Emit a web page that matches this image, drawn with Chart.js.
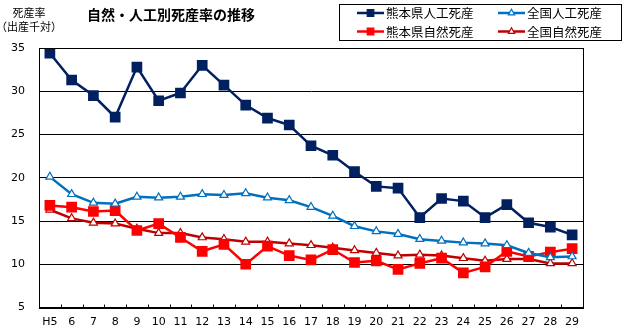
<!DOCTYPE html>
<html>
<head>
<meta charset="utf-8">
<script src="https://cdn.jsdelivr.net/npm/chart.js@4/dist/chart.umd.min.js"></script>
<style>
  html, body { margin: 0; padding: 0; background: #fff; }
  #wrap { width: 627px; height: 332px; position: relative; }
</style>
</head>
<body>
<div id="wrap"><canvas id="myChart"></canvas></div>
<script>
// 年次（平成）
var years = ['H5','6','7','8','9','10','11','12','13','14','15','16','17','18','19','20','21','22','23','24','25','26','27','28','29'];

// 死産率（出産千対）
var kumamotoJinko = [34.4,31.3,29.5,27.0,32.8,28.9,29.8,33.0,30.7,28.4,26.9,26.1,23.7,22.6,20.7,19.0,18.8,15.4,17.6,17.3,15.4,16.9,14.8,14.3,13.4];
var zenkokuJinko  = [20.1,18.1,17.1,17.0,17.8,17.7,17.8,18.1,18.0,18.2,17.7,17.4,16.6,15.6,14.4,13.8,13.5,12.9,12.7,12.5,12.4,12.2,11.3,10.8,10.9];
var kumamotoShizen = [16.8,16.6,16.1,16.2,13.9,14.7,13.1,11.5,12.3,10.0,12.1,11.0,10.5,11.7,10.2,10.4,9.4,10.1,10.7,9.0,9.7,11.5,10.9,11.4,11.8];
var zenkokuShizen  = [16.3,15.3,14.8,14.7,14.1,13.6,13.6,13.1,12.9,12.6,12.6,12.4,12.2,11.9,11.6,11.3,11.0,11.1,11.0,10.7,10.4,10.6,10.6,10.1,10.1];

var yTicks = [5,10,15,20,25,30,35];

var JP = '"Noto Sans CJK JP", "Noto Sans", sans-serif';

// frame, inner ticks, titles and the boxed legend
var decorPlugin = {
  id: 'decor',
  afterDraw: function (chart) {
    var ctx = chart.ctx;
    var a = chart.chartArea;
    var xs = chart.scales.x;
    ctx.save();
    ctx.strokeStyle = '#000';
    ctx.lineWidth = 1;
    ctx.strokeRect(Math.round(a.left) + 0.5, Math.round(a.top) + 0.5, Math.round(a.right - a.left), Math.round(a.bottom - a.top));
    var half = (xs.getPixelForValue(1) - xs.getPixelForValue(0)) / 2;
    for (var i = 1; i < years.length; i++) {
      var tx = Math.round(xs.getPixelForValue(i) - half) + 0.5;
      ctx.beginPath();
      ctx.moveTo(tx, a.bottom);
      ctx.lineTo(tx, a.bottom - 3);
      ctx.stroke();
    }

    ctx.fillStyle = '#000';
    ctx.textBaseline = 'middle';
    ctx.textAlign = 'left';
    ctx.font = 'bold 14px ' + JP;
    ctx.fillText('自然・人工別死産率の推移', 87, 15);
    ctx.textAlign = 'center';
    ctx.font = '11px ' + JP;
    ctx.fillText('死産率', 29, 13);
    ctx.fillText('（出産千対）', 29, 27);

    ctx.fillStyle = '#fff';
    ctx.fillRect(339, 4, 283, 37);
    ctx.strokeRect(339.5, 4.5, 282, 36);
    var pos = [[357, 13], [498, 13], [357, 31.5], [498, 31.5]];
    chart.data.datasets.forEach(function (ds, k) {
      var lx = pos[k][0], ly = pos[k][1];
      ctx.strokeStyle = ds.borderColor;
      ctx.lineWidth = ds.borderWidth;
      ctx.beginPath();
      ctx.moveTo(lx, ly);
      ctx.lineTo(lx + 27, ly);
      ctx.stroke();
      ctx.fillStyle = ds.pointBackgroundColor;
      ctx.strokeStyle = ds.pointBorderColor;
      ctx.lineWidth = 1.2;
      Chart.helpers.drawPoint(ctx, { pointStyle: ds.pointStyle, radius: ds.pointRadius * 0.8, borderWidth: 1.2 }, lx + 13.5, ly);
      ctx.fillStyle = '#000';
      ctx.textAlign = 'left';
      ctx.font = '12.5px ' + JP;
      ctx.fillText(ds.label, lx + 29, ly + 0.5);
    });
    ctx.restore();
  }
};

var data = {
  labels: years,
  datasets: [{
    label: '熊本県人工死産',
    data: kumamotoJinko,
    borderColor: '#002060',
    backgroundColor: '#002060',
    pointBackgroundColor: '#002060',
    pointBorderColor: '#002060',
    pointStyle: 'rect',
    pointRadius: 5.8,
    borderWidth: 2.5
  }, {
    label: '全国人工死産',
    data: zenkokuJinko,
    borderColor: '#0070C0',
    backgroundColor: '#ffffff',
    pointBackgroundColor: '#ffffff',
    pointBorderColor: '#0070C0',
    pointStyle: 'triangle',
    pointRadius: 4.6,
    pointBorderWidth: 1.2,
    borderWidth: 2.5
  }, {
    label: '熊本県自然死産',
    data: kumamotoShizen,
    borderColor: '#FF0000',
    backgroundColor: '#FF0000',
    pointBackgroundColor: '#FF0000',
    pointBorderColor: '#FF0000',
    pointStyle: 'rect',
    pointRadius: 5.8,
    borderWidth: 2.5
  }, {
    label: '全国自然死産',
    data: zenkokuShizen,
    borderColor: '#C00000',
    backgroundColor: '#ffffff',
    pointBackgroundColor: '#ffffff',
    pointBorderColor: '#C00000',
    pointStyle: 'triangle',
    pointRadius: 4.6,
    pointBorderWidth: 1.2,
    borderWidth: 2.5
  }]
};

var myChart = new Chart(document.getElementById('myChart'), {
  type: 'line',
  data: data,
  plugins: [decorPlugin],
  options: {
    responsive: true,
    maintainAspectRatio: false,
    animation: false,
    events: [],
    layout: { padding: { top: 48, right: 44, left: 0, bottom: 0 } },
    plugins: {
      legend: { display: false },
      title: { display: false },
      tooltip: { enabled: false }
    },
    elements: { line: { tension: 0 } },
    scales: {
      x: {
        offset: true,
        grid: { display: false, drawTicks: false },
        border: { display: true, color: '#000', width: 1 },
        ticks: {
          color: '#000',
          padding: 8,
          maxRotation: 0,
          autoSkip: false,
          font: { family: 'Verdana, "DejaVu Sans", sans-serif', size: 11 }
        },
        afterFit: function (scale) { scale.height = 24.5; }
      },
      y: {
        min: 5,
        max: 35,
        grid: { color: '#000', lineWidth: 1, drawTicks: false },
        border: { display: true, color: '#000', width: 1 },
        afterBuildTicks: function (scale) {
          scale.ticks = yTicks.map(function (v) { return { value: v }; });
        },
        ticks: {
          color: '#000',
          padding: 14,
          font: { family: 'Verdana, "DejaVu Sans", sans-serif', size: 11 }
        },
        afterFit: function (scale) { scale.width = 39; }
      }
    }
  }
});
</script>
</body>
</html>
